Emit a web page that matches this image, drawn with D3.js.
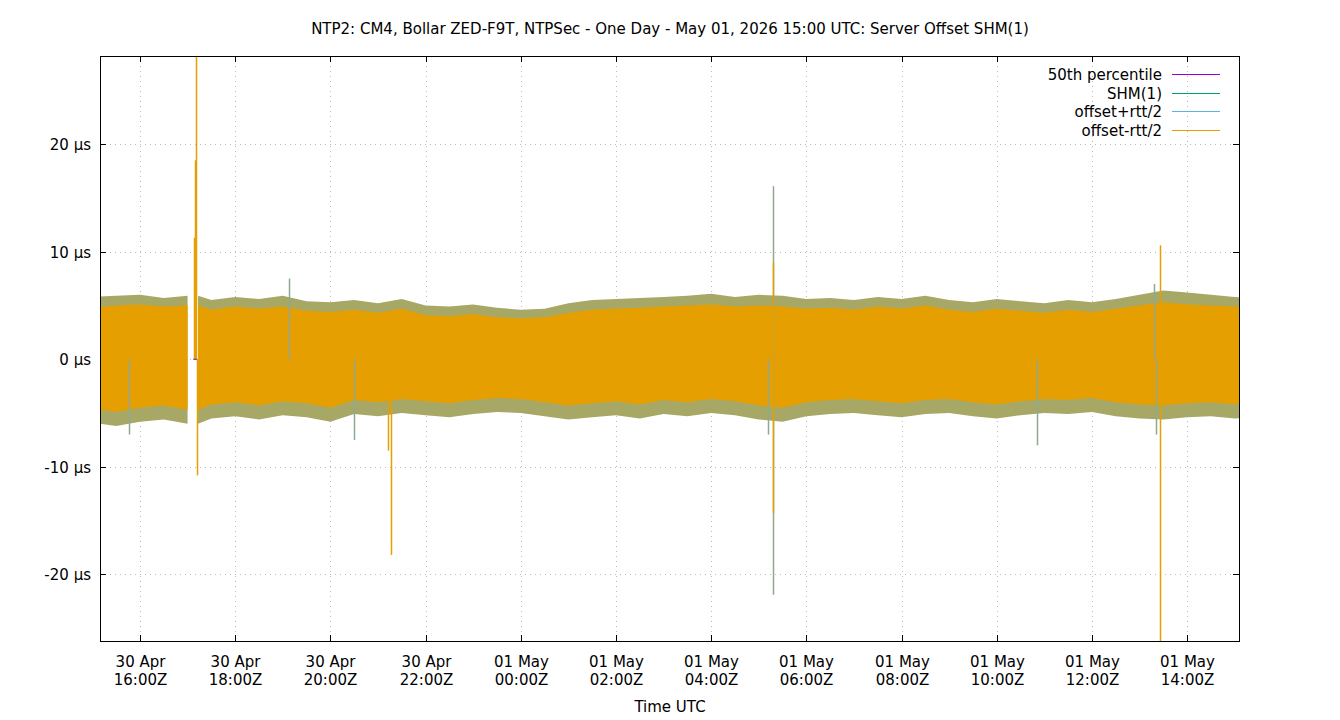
<!DOCTYPE html>
<html><head><meta charset="utf-8">
<script src="https://cdn.jsdelivr.net/npm/d3@7"></script>
<style>body{margin:0;background:#fff}text{font-family:"DejaVu Sans",sans-serif}</style>
</head><body><svg id="chart" width="1340" height="720"></svg>
<script>
// half-hour bins from 30 Apr 15:00Z to 01 May 15:00Z
const binStart = Date.UTC(2026, 3, 30, 15, 0);
const outerHi = [5.8,5.9,6.0,5.7,5.9,5.5,5.8,5.6,5.9,5.4,5.3,5.5,5.2,5.6,5.0,4.9,5.1,4.8,4.6,4.7,5.2,5.5,5.6,5.7,5.8,5.9,6.1,5.8,6.0,5.9,5.6,5.7,5.5,5.8,5.6,5.9,5.5,5.3,5.6,5.4,5.2,5.5,5.3,5.6,6.0,6.4,6.2,6.0,5.8,5.6];
const outerLo = [-5.9,-6.2,-5.8,-5.6,-6.0,-5.5,-5.3,-5.6,-5.2,-5.4,-5.8,-5.1,-5.3,-5.0,-5.2,-5.4,-5.1,-4.9,-5.0,-5.3,-5.6,-5.4,-5.2,-5.5,-5.1,-5.3,-5.0,-5.2,-5.6,-5.8,-5.3,-5.1,-5.0,-5.2,-5.4,-5.1,-5.0,-5.3,-5.5,-5.2,-5.0,-5.1,-4.9,-5.3,-5.5,-5.6,-5.4,-5.3,-5.5,-5.4];
const innerHi = [4.8,5.0,5.1,4.9,5.0,4.6,4.9,4.7,4.9,4.5,4.4,4.6,4.3,4.7,4.1,4.0,4.2,3.9,3.8,3.9,4.3,4.6,4.7,4.8,4.9,5.0,5.1,4.9,5.0,4.9,4.7,4.8,4.6,4.9,4.7,5.0,4.6,4.4,4.7,4.5,4.3,4.6,4.4,4.7,5.0,5.3,5.1,5.0,4.9,4.8];
const innerLo = [-4.6,-4.9,-4.5,-4.3,-4.7,-4.2,-4.0,-4.3,-3.9,-4.1,-4.5,-3.8,-4.0,-3.7,-3.9,-4.1,-3.8,-3.6,-3.7,-4.0,-4.3,-4.1,-3.9,-4.2,-3.8,-4.0,-3.7,-3.9,-4.3,-4.5,-4.0,-3.8,-3.7,-3.9,-4.1,-3.8,-3.7,-4.0,-4.2,-3.9,-3.7,-3.8,-3.6,-4.0,-4.2,-4.3,-4.1,-4.0,-4.2,-4.1];
// isolated spikes: [hours after 15:00Z, µs, series]
const spikes = [
  [0.77,-7.0,"g"],[2.18,28.5,"o"],[2.16,18.5,"o"],[2.14,11.3,"o"],[2.2,-10.8,"o"],
  [4.13,7.5,"g"],[6.27,-18.2,"o"],[6.22,-8.5,"o"],[5.5,-7.5,"g"],
  [14.3,16.1,"g"],[14.3,-21.9,"g"],[14.31,9.0,"o"],[14.31,-14.3,"o"],[14.2,-7.0,"g"],
  [19.84,-8.0,"g"],[22.43,10.6,"o"],[22.43,-26.5,"o"],[22.3,7.0,"g"],[22.35,-7.0,"g"]
];
const gapStart = 2.1, gapEnd = 2.22; // hours with no samples
const xTicks = ["16:00","18:00","20:00","22:00","00:00","02:00","04:00","06:00","08:00","10:00","12:00","14:00"];
const xDays  = ["30 Apr","30 Apr","30 Apr","30 Apr","01 May","01 May","01 May","01 May","01 May","01 May","01 May","01 May"];
const yTicks = [-20,-10,0,10,20];
const legend = [["50th percentile","#9400d3"],["SHM(1)","#009e73"],["offset+rtt/2","#56b4e9"],["offset-rtt/2","#e69f00"]];

const H = 3600e3;
const svg = d3.select("#chart");
const L = 100, R = 1239, T = 56, B = 641;
const x = d3.scaleTime().domain([binStart + 0.16*H, binStart + 24.09*H]).range([L, R]);
const y = d3.scaleLinear().domain([-26.2, 28.2]).range([B, T]);
const t = h => new Date(binStart + h*H);
const fs = 15;

svg.append("clipPath").attr("id","clip").append("rect").attr("x",L).attr("y",T).attr("width",R-L).attr("height",B-T);

const g = svg.append("g");
xTicks.forEach((s,i)=>{
  const h = 1 + 2*i; const px = Math.round(x(t(h)))+0.5;
  g.append("line").attr("x1",px).attr("x2",px).attr("y1",T).attr("y2",B).attr("stroke","#bbb").attr("stroke-dasharray","1,4");
  g.append("line").attr("x1",px).attr("x2",px).attr("y1",B).attr("y2",B-6).attr("stroke","#000");
  g.append("line").attr("x1",px).attr("x2",px).attr("y1",T).attr("y2",T+6).attr("stroke","#000");
  g.append("text").attr("x",px).attr("y",667).attr("text-anchor","middle").attr("font-size",fs).text(xDays[i]);
  g.append("text").attr("x",px).attr("y",685).attr("text-anchor","middle").attr("font-size",fs).text(s+"Z");
});
yTicks.forEach(v=>{
  const py = Math.round(y(v))+0.5;
  g.append("line").attr("x1",L).attr("x2",R).attr("y1",py).attr("y2",py).attr("stroke","#bbb").attr("stroke-dasharray","1,4");
  g.append("line").attr("x1",L).attr("x2",L+6).attr("y1",py).attr("y2",py).attr("stroke","#000");
  g.append("line").attr("x1",R).attr("x2",R-6).attr("y1",py).attr("y2",py).attr("stroke","#000");
  g.append("text").attr("x",91).attr("y",py+5).attr("text-anchor","end").attr("font-size",fs).text(v+" µs");
});

const plot = svg.append("g").attr("clip-path","url(#clip)");
const idx = d3.range(outerHi.length);
const segs = [idx.filter(i=>i*0.5<=gapStart+0.3), idx.filter(i=>i*0.5>=gapEnd-0.3)];
segs.forEach((s,k)=>{
  const hx = i => { let h=i*0.5; if(k===0) h=Math.min(h,gapStart); else h=Math.max(h,gapEnd); return x(t(h)); };
  plot.append("path").datum(s).attr("fill","#a8a866")
    .attr("d", d3.area().x(hx).y0(i=>y(outerLo[i])).y1(i=>y(outerHi[i])));
  plot.append("path").datum(s).attr("fill","#e69f00")
    .attr("d", d3.area().x(hx).y0(i=>y(innerLo[i])).y1(i=>y(innerHi[i])));
});
spikes.forEach(([h,v,c])=>{
  const px = Math.round(x(t(h)))+0.5;
  plot.append("line").attr("x1",px).attr("x2",px).attr("y1",y(0)).attr("y2",y(v))
    .attr("stroke", c==="o" ? "#e69f00" : "#8fa890").attr("stroke-width",1.5);
});
plot.append("line").attr("x1",x(t(2.16))-2).attr("x2",x(t(2.16))+2).attr("y1",y(0)).attr("y2",y(0)).attr("stroke","#9400d3");

svg.append("rect").attr("x",L+0.5).attr("y",T+0.5).attr("width",R-L).attr("height",B-T).attr("fill","none").attr("stroke","#000");

legend.forEach(([n,c],i)=>{
  const ly = Math.round(74 + i*18.5)+0.5;
  svg.append("text").attr("x",1162).attr("y",ly+5).attr("text-anchor","end").attr("font-size",fs).text(n);
  svg.append("line").attr("x1",1172).attr("x2",1220).attr("y1",ly).attr("y2",ly).attr("stroke",c);
});

svg.append("text").attr("x",670).attr("y",34).attr("text-anchor","middle").attr("font-size",fs)
  .text("NTP2: CM4, Bollar ZED-F9T, NTPSec - One Day - May 01, 2026 15:00 UTC: Server Offset SHM(1)");
svg.append("text").attr("x",670).attr("y",712).attr("text-anchor","middle").attr("font-size",fs).text("Time UTC");
</script></body></html>
